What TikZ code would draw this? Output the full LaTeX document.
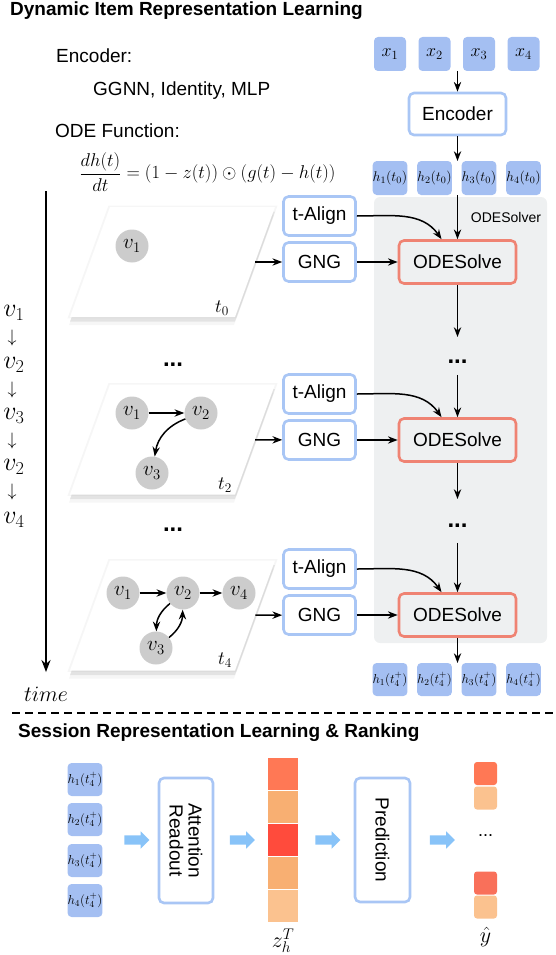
\RequirePackage{fix-cm}
\documentclass[tikz,border=0pt]{standalone}
\usepackage[no-math]{fontspec}
\setmainfont{Liberation Sans}
\usetikzlibrary{arrows.meta,shapes.arrows,shadows}

\definecolor{tileblue}{HTML}{A4BFF2}
\definecolor{lineblue}{HTML}{A9C6F5}
\definecolor{solvered}{HTML}{EF8373}
\definecolor{panelgray}{HTML}{EEF0F1}
\definecolor{nodegray}{HTML}{CCCCCC}
\definecolor{fatblue}{HTML}{88C3F8}
\definecolor{hotA}{HTML}{FF7855}
\definecolor{hotB}{HTML}{F8AF72}
\definecolor{hotC}{HTML}{FF4B3C}
\definecolor{hotD}{HTML}{FBC28F}
\definecolor{hotE}{HTML}{F9705A}

\newcommand{\fs}[1]{\fontsize{#1}{#1}\selectfont}

\tikzset{
  title/.style={anchor=base west, inner sep=0pt, font=\fs{19}\bfseries},
  note/.style={anchor=base west, inner sep=0pt, font=\fs{19}},
  tile/.style={rectangle, rounded corners=4pt, fill=tileblue, minimum width=32pt,
               minimum height=34pt, inner sep=0pt, font=\fs{14}},
  bluebox/.style={rectangle, rounded corners=5pt, draw=lineblue, line width=2.6pt,
                  fill=white, inner sep=0pt, font=\fs{19}},
  solvebox/.style={rectangle, rounded corners=5pt, draw=solvered, line width=2.6pt,
                   fill=panelgray, minimum width=117pt, minimum height=43pt,
                   inner sep=0pt, font=\fs{19}},
  slide/.style={rectangle, fill=white, minimum width=165pt, minimum height=110pt,
                xslant=0.3636, transform shape,
                drop shadow={shadow xshift=0pt, shadow yshift=0pt, shadow scale=1.025,
                             opacity=0.07},
                drop shadow={shadow xshift=-1pt, shadow yshift=-8pt, opacity=0.07},
                drop shadow={shadow xshift=0pt, shadow yshift=-4.5pt, opacity=0.16}},
  item/.style={circle, fill=nodegray, minimum size=33pt, inner sep=0pt, font=\fs{21}},
  stamp/.style={font=\fs{19}, inner sep=0pt},
  seq/.style={font=\fs{26}, inner sep=0pt},
  seqdown/.style={font=\fs{18}, inner sep=0pt},
  dotsbold/.style={font=\fs{24}\bfseries, inner sep=0pt},
  fat/.style={single arrow, fill=fatblue, minimum height=25pt, inner xsep=0pt,
              inner ysep=4.5pt, single arrow head extend=4pt},
  cell/.style={rectangle, draw=white, line width=1.2pt, minimum width=32pt,
               minimum height=33.2pt, inner sep=0pt},
  pick/.style={rectangle, rounded corners=3pt, minimum width=23pt, minimum height=23pt,
               inner sep=0pt}
}

\begin{document}
\begin{tikzpicture}[x=1pt, y=1pt]
\useasboundingbox (0,0) rectangle (556,-955);

% upper part
\node[title] (ttl1) at (10,-16) {Dynamic Item Representation Learning};
\node[note] (encnote) at (56,-63) {Encoder:};
\node[note] (encopts) at (93,-96) {GGNN, Identity, MLP};
\node[note] (odenote) at (55,-137) {ODE Function:};
\node[font=\fs{18.5}] (odeeq) at (207.5,-172)
  {$\displaystyle\frac{dh(t)}{dt} = \big(1-z(t)\big)\odot\big(g(t)-h(t)\big)$};

\node[fill=panelgray, rounded corners=6pt, minimum width=173pt, minimum height=446pt,
      inner sep=0pt] (solver) at (460.5,-420) {};
\node[font=\fs{14}] (solverlbl) at (506,-217) {ODESolver};

\begin{scope}[every node/.style={tile, font=\fs{18}}]
    \node (x1) at (390,-54) {$x_1$};
    \node (x2) at (434.5,-54) {$x_2$};
    \node (x3) at (479,-54) {$x_3$};
    \node (x4) at (523.5,-54) {$x_4$};
\end{scope}
\begin{scope}[every node/.style={tile}]
    \node (h1) at (390,-178) {$h_1(t_0)$};
    \node (h2) at (434.5,-178) {$h_2(t_0)$};
    \node (h3) at (479,-178) {$h_3(t_0)$};
    \node (h4) at (523.5,-178) {$h_4(t_0)$};
\end{scope}
\begin{scope}[every node/.style={tile, minimum height=33pt, font=\fs{13}}]
    \node (hf1) at (390,-679.5) {$h_1(t_4^+)$};
    \node (hf2) at (434.5,-679.5) {$h_2(t_4^+)$};
    \node (hf3) at (479,-679.5) {$h_3(t_4^+)$};
    \node (hf4) at (523.5,-679.5) {$h_4(t_4^+)$};
\end{scope}
\coordinate (xout) at (457.5,-71);
\coordinate (hin) at (457.5,-161);
\coordinate (hout) at (457.5,-195);
\coordinate (hfin) at (457.5,-663);

\node[bluebox, minimum width=97pt, minimum height=42pt] (enc) at (457.5,-114) {Encoder};

\begin{scope}[every node/.style={bluebox, minimum width=72pt, minimum height=39pt}]
    \node (al0) at (319.5,-216) {t-Align};
    \node (gng0) at (319.5,-262) {GNG};
    \node (al1) at (319.5,-394) {t-Align};
    \node (gng1) at (319.5,-440) {GNG};
    \node (al2) at (319.5,-569) {t-Align};
    \node (gng2) at (319.5,-615) {GNG};
\end{scope}
\begin{scope}[every node/.style={solvebox}]
    \node (ode0) at (457.5,-262) {ODESolve};
    \node (ode1) at (457.5,-440) {ODESolve};
    \node (ode2) at (457.5,-615) {ODESolve};
\end{scope}
\node[dotsbold] (rdots0) at (457.5,-362) {...};
\node[dotsbold] (rdots1) at (457.5,-526) {...};

% session graphs
\node[slide] (g0) at (172.5,-262) {};
\node[slide] (g1) at (172.5,-439.5) {};
\node[slide] (g2) at (172.5,-615.5) {};
\node[dotsbold] (ldots0) at (173,-365) {...};
\node[dotsbold] (ldots1) at (173,-530) {...};

\begin{scope}[every node/.style={item}]
    \node (a1) at (132,-246) {$v_1$};
    \node (b1) at (132,-413) {$v_1$};
    \node (b2) at (201,-413) {$v_2$};
    \node (b3) at (152,-473) {$v_3$};
    \node (c1) at (123,-593) {$v_1$};
    \node (c2) at (183,-593) {$v_2$};
    \node (c4) at (239,-593) {$v_4$};
    \node (c3) at (156,-648) {$v_3$};
\end{scope}
\node[stamp] (ta) at (222,-308) {$t_0$};
\node[stamp] (tb) at (225,-485) {$t_2$};
\node[stamp] (tc) at (225,-660) {$t_4$};

% click order and time axis
\begin{scope}[every node/.style={seq}]
    \node (s1) at (14,-313) {$v_1$};
    \node (s2) at (14,-365) {$v_2$};
    \node (s3) at (14,-416) {$v_3$};
    \node (s4) at (14,-467) {$v_2$};
    \node (s5) at (14,-520) {$v_4$};
\end{scope}
\begin{scope}[every node/.style={seqdown}]
    \node (s1d) at (12,-338) {$\downarrow$};
    \node (s2d) at (12,-390) {$\downarrow$};
    \node (s3d) at (12,-441) {$\downarrow$};
    \node (s4d) at (12,-492) {$\downarrow$};
\end{scope}
\coordinate (tstart) at (46,-191);
\node[font=\fs{22}, anchor=base] (timelbl) at (46,-701) {$time$};

\begin{scope}[>={Stealth[black]},
              every edge/.style={draw, line width=1.5pt}]
    \path [->] (xout) edge (enc);
    \path [->] (enc) edge (hin);
    \path [->] (hout) edge (ode0);
    \path [->] (ode0) edge[shorten >=23pt] (rdots0);
    \path [->] (rdots0) edge[shorten <=11pt] (ode1);
    \path [->] (ode1) edge[shorten >=25pt] (rdots1);
    \path [->] (rdots1) edge[shorten <=15pt] (ode2);
    \path [->] (ode2) edge (hfin);
    \path [->] (al0) edge[out=0, in=125] (ode0.125);
    \path [->] (al1) edge[out=0, in=125] (ode1.125);
    \path [->] (al2) edge[out=0, in=125] (ode2.125);
    \path [->] (gng0) edge (ode0);
    \path [->] (gng1) edge (ode1);
    \path [->] (gng2) edge (ode2);
    \path [->] (g0) edge (gng0);
    \path [->] (g1) edge (gng1);
    \path [->] (g2) edge (gng2);
    \path [->] (b1) edge (b2);
    \path [->] (b2) edge[bend right=30] (b3);
    \path [->] (c1) edge (c2);
    \path [->] (c2) edge (c4);
    \path [->] (c2) edge[bend right=25] (c3);
    \path [->] (c3) edge[bend right=25] (c2);
    \path [->] (tstart) edge[line width=2pt, shorten >=11pt] (timelbl);
\end{scope}

% lower part
\coordinate (cutL) at (12,-713);
\coordinate (cutR) at (556,-713);
\draw[line width=1.8pt, dash pattern=on 8pt off 5pt] (cutL) -- (cutR);
\node[title] (ttl2) at (18,-737) {Session Representation Learning \& Ranking};

\begin{scope}[every node/.style={tile, minimum width=33pt, minimum height=33pt, font=\fs{13}}]
    \node (p1) at (85,-779.5) {$h_1(t_4^+)$};
    \node (p2) at (85,-819.5) {$h_2(t_4^+)$};
    \node (p3) at (85,-860.5) {$h_3(t_4^+)$};
    \node (p4) at (85,-900.5) {$h_4(t_4^+)$};
\end{scope}
\node[bluebox, rotate=-90, minimum width=125pt, minimum height=54pt, align=center]
  (attn) at (186,-840.5) {Attention\\Readout};
\node[bluebox, rotate=-90, minimum width=124pt, minimum height=55pt]
  (pred) at (382.5,-840) {Prediction};
\begin{scope}[every node/.style={cell}]
    \node[fill=hotA] (z1) at (283,-773.6) {};
    \node[fill=hotB] (z2) at (283,-806.8) {};
    \node[fill=hotC] (z3) at (283,-840) {};
    \node[fill=hotB] (z4) at (283,-873.2) {};
    \node[fill=hotD] (z5) at (283,-906.4) {};
\end{scope}
\node[font=\fs{22}] (zlbl) at (283,-941) {$z_h^T$};
\begin{scope}[every node/.style={pick}]
    \node[fill=hotA] (y1) at (485.5,-773.5) {};
    \node[fill=hotD] (y2) at (485.5,-798) {};
    \node[fill=hotE] (y3) at (485.5,-883) {};
    \node[fill=hotD] (y4) at (485.5,-907) {};
\end{scope}
\node[font=\fs{18}, inner sep=0pt] (ydots) at (485.5,-836) {...};
\node[font=\fs{22}] (ylbl) at (485.5,-937) {$\hat{y}$};
\begin{scope}[every node/.style={fat}]
    \node (f1) at (134.5,-840) {};
    \node (f2) at (240,-840) {};
    \node (f3) at (325.5,-840) {};
    \node (f4) at (440,-840) {};
\end{scope}
\end{tikzpicture}
\end{document}
